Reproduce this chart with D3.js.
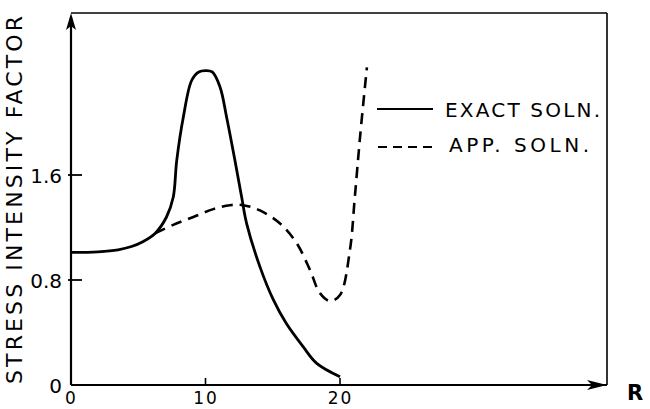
<!DOCTYPE html>
<html><head><meta charset="utf-8">
<script src="https://cdn.jsdelivr.net/npm/d3@7"></script>
<style>
html,body{margin:0;padding:0;background:#fff;}
svg{display:block;}
text{font-family:"DejaVu Sans",sans-serif;fill:#000;}
</style></head>
<body>
<svg id="chart" width="650" height="409"></svg>
<script>
// ---- data ----
const exactX = [0, 2, 3.5, 4.5, 5.3, 6.25, 7.1, 7.6, 7.86, 8.35, 8.97, 9.5, 10, 10.5, 11.08, 11.57, 12.19, 12.69, 13.06, 14.05, 15.04, 16, 17.27, 18.27, 20];
const exactY = [1.01, 1.015, 1.03, 1.055, 1.09, 1.155, 1.28, 1.43, 1.71, 2.04, 2.32, 2.385, 2.395, 2.385, 2.27, 2.04, 1.71, 1.43, 1.23, 0.90, 0.65, 0.47, 0.29, 0.165, 0.063];
const approxX = [6.25, 7.6, 9.1, 10.58, 11.82, 12.81, 14.05, 15.54, 16.78, 17.77, 18.51, 19.26, 20, 20.74, 21.1, 21.5, 22.0];
const approxY = [1.155, 1.22, 1.28, 1.34, 1.37, 1.37, 1.33, 1.23, 1.08, 0.876, 0.70, 0.64, 0.686, 1.03, 1.43, 1.9, 2.42];
const xTicks = [0, 10, 20];
const yTicks = [0, 0.8, 1.6];
const yTickLabels = ["0", "0.8", "1.6"];
const xTickLabels = ["0", "10", "20"];
const seriesNames = ["EXACT SOLN.", "APP. SOLN."];
const yTitle = "STRESS INTENSITY FACTOR";
const xTitle = "R";

// ---- layout ----
const svg = d3.select("#chart");
const x = d3.scaleLinear().domain([0, 20]).range([71, 340]);
const y = d3.scaleLinear().domain([0, 1.6]).range([385, 175]);
const xEnd = 607, yTop = 13;
const FONT = "DejaVu Sans, sans-serif";

// frame lines (top and right)
svg.append("line").attr("x1", x(0)).attr("x2", xEnd).attr("y1", yTop).attr("y2", yTop)
  .attr("stroke", "#000").attr("stroke-width", 1.6);
svg.append("line").attr("x1", xEnd).attr("x2", xEnd).attr("y1", yTop).attr("y2", y(0))
  .attr("stroke", "#000").attr("stroke-width", 1.6);

// axes lines
svg.append("line").attr("x1", x(0)).attr("x2", xEnd).attr("y1", y(0)).attr("y2", y(0))
  .attr("stroke", "#000").attr("stroke-width", 2.2);
svg.append("line").attr("x1", x(0)).attr("x2", x(0)).attr("y1", y(0)).attr("y2", yTop + 4)
  .attr("stroke", "#000").attr("stroke-width", 2.2);
// arrowheads
svg.append("path").attr("d", `M${x(0)},${yTop} L${x(0) - 5},${yTop + 17} L${x(0)},${yTop + 13} L${x(0) + 5},${yTop + 17} Z`).attr("fill", "#000");
svg.append("path").attr("d", `M${xEnd},${y(0)} L${xEnd - 20},${y(0) - 5} L${xEnd - 15},${y(0)} L${xEnd - 20},${y(0) + 5} Z`).attr("fill", "#000");

// y axis (labels through d3 axis)
const yAxis = d3.axisLeft(y).tickValues(yTicks).tickSize(0).tickPadding(9)
  .tickFormat((d, i) => yTickLabels[i]);
const gy = svg.append("g").attr("transform", `translate(${x(0)},0)`).call(yAxis);
gy.select(".domain").remove();
gy.selectAll("text").attr("font-size", 20).attr("font-family", FONT).attr("dy", "0.36em");
// y tick marks crossing axis
svg.selectAll(".ytick").data(yTicks.filter(d => d > 0)).enter().append("line")
  .attr("x1", x(0) - 3).attr("x2", x(0) + 11).attr("y1", d => y(d)).attr("y2", d => y(d))
  .attr("stroke", "#000").attr("stroke-width", 1.8);

// x axis
const xAxis = d3.axisBottom(x).tickValues(xTicks).tickSize(0).tickPadding(7)
  .tickFormat((d, i) => xTickLabels[i]);
const gx = svg.append("g").attr("transform", `translate(0,${y(0)})`).call(xAxis);
gx.select(".domain").remove();
gx.selectAll("text").attr("font-size", 17).attr("font-family", FONT).attr("letter-spacing", 2);
svg.selectAll(".xtick").data(xTicks.filter(d => d > 0)).enter().append("line")
  .attr("x1", d => x(d)).attr("x2", d => x(d)).attr("y1", y(0)).attr("y2", y(0) - 7)
  .attr("stroke", "#000").attr("stroke-width", 1.6);

// curves
const line = d3.line().x(d => x(d[0])).y(d => y(d[1])).curve(d3.curveCatmullRom.alpha(0.5));
const exactData = exactX.map((v, i) => [v, exactY[i]]);
const approxData = approxX.map((v, i) => [v, approxY[i]]);
svg.append("path").datum(approxData).attr("d", line).attr("fill", "none")
  .attr("stroke", "#000").attr("stroke-width", 2.6).attr("stroke-dasharray", "11,7");
svg.append("path").datum(exactData).attr("d", line).attr("fill", "none")
  .attr("stroke", "#000").attr("stroke-width", 2.8).attr("stroke-linejoin", "round");

// legend
const leg = svg.append("g");
leg.append("line").attr("x1", 377).attr("x2", 433).attr("y1", 109).attr("y2", 109)
  .attr("stroke", "#000").attr("stroke-width", 2.2);
leg.append("line").attr("x1", 378).attr("x2", 433).attr("y1", 147).attr("y2", 147)
  .attr("stroke", "#000").attr("stroke-width", 2.2).attr("stroke-dasharray", "9,6");
leg.append("text").attr("x", 445).attr("y", 117).attr("font-size", 20)
  .attr("textLength", 155).attr("lengthAdjust", "spacing").text(seriesNames[0]);
leg.append("text").attr("x", 449).attr("y", 152).attr("font-size", 20)
  .attr("textLength", 140).attr("lengthAdjust", "spacing").text(seriesNames[1]);

// axis titles
svg.append("text").attr("transform", "translate(22,384) rotate(-90)")
  .attr("font-size", 22).attr("textLength", 368).attr("lengthAdjust", "spacing")
  .text(yTitle);
svg.append("text").attr("x", 627).attr("y", 400).attr("font-size", 21).attr("font-weight", "bold")
  .text(xTitle);
</script>
</body></html>
